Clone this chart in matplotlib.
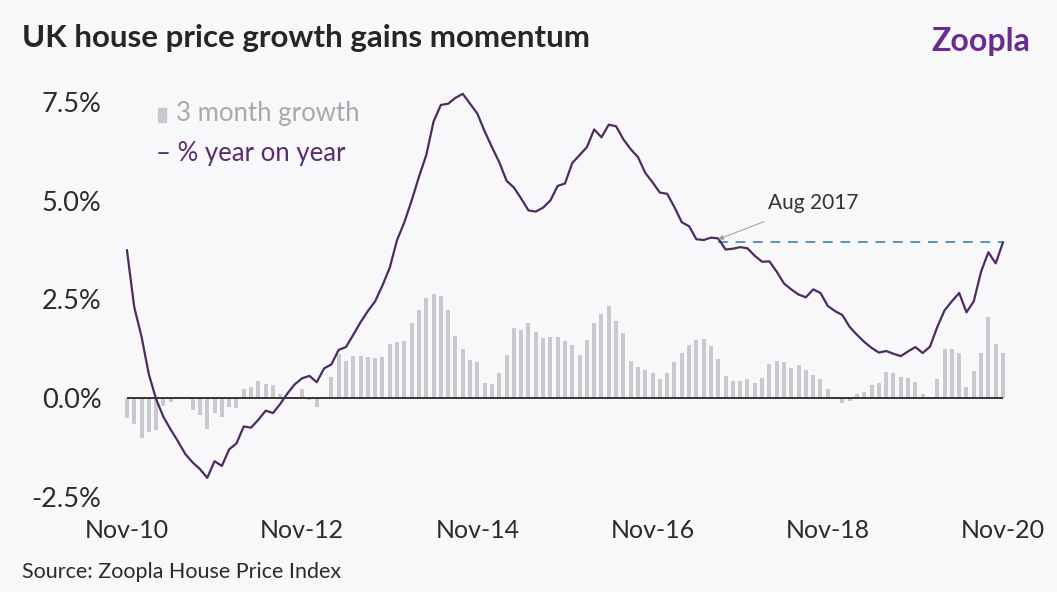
import pandas as pd
import matplotlib
matplotlib.use('Agg')
import matplotlib.pyplot as plt
from matplotlib.patches import Rectangle

# monthly series, Nov 2010 - Nov 2020
months = pd.date_range('2010-11-01', '2020-11-01', freq='MS')

yoy = [3.74, 2.3, 1.55, 0.6, -0.03, -0.48, -0.8, -1.1, -1.42, -1.63,
       -1.8, -2.02, -1.6, -1.72, -1.3, -1.15, -0.72, -0.75, -0.55, -0.32,
       -0.38, -0.15, 0.12, 0.35, 0.5, 0.56, 0.4, 0.75, 0.85, 1.22,
       1.29, 1.6, 1.92, 2.2, 2.45, 2.85, 3.3, 4.0, 4.45, 5.0,
       5.6, 6.15, 7.0, 7.42, 7.45, 7.6, 7.7, 7.45, 7.2, 6.75,
       6.35, 5.97, 5.5, 5.33, 5.05, 4.75, 4.72, 4.82, 5.0, 5.37,
       5.43, 5.95, 6.15, 6.35, 6.8, 6.6, 6.92, 6.88, 6.55, 6.3,
       6.1, 5.7, 5.46, 5.2, 5.17, 4.83, 4.45, 4.35, 4.02, 4.0,
       4.06, 4.04, 3.76, 3.78, 3.82, 3.79, 3.6, 3.45, 3.46, 3.2,
       2.9, 2.75, 2.62, 2.55, 2.75, 2.66, 2.33, 2.2, 2.1, 1.8,
       1.6, 1.42, 1.27, 1.15, 1.19, 1.12, 1.06, 1.18, 1.29, 1.14,
       1.3, 1.8, 2.22, 2.45, 2.66, 2.17, 2.45, 3.2, 3.69, 3.41,
       3.94]

three_month = [-0.5, -0.65, -1.0, -0.85, -0.8, -0.2, -0.1, 0, 0, -0.3,
               -0.43, -0.79, -0.39, -0.47, -0.22, -0.26, 0.24, 0.27, 0.42, 0.35,
               0.34, 0.1, 0, 0, 0.22, -0.05, -0.22, 0, 0.54, 1.11,
               0.93, 1.06, 1.06, 1.04, 1.02, 1.04, 1.36, 1.42, 1.44, 1.89,
               2.22, 2.52, 2.63, 2.58, 2.22, 1.57, 1.25, 0.96, 0.92, 0.39,
               0.35, 0.63, 1.09, 1.77, 1.72, 1.89, 1.68, 1.53, 1.55, 1.55,
               1.44, 1.34, 1.09, 1.48, 1.91, 2.12, 2.34, 1.95, 1.64, 0.94,
               0.79, 0.71, 0.64, 0.47, 0.64, 0.92, 1.14, 1.34, 1.47, 1.5,
               1.32, 0.98, 0.56, 0.44, 0.42, 0.48, 0.37, 0.5, 0.86, 0.94,
               0.91, 0.77, 0.84, 0.71, 0.58, 0.48, 0.22, 0, -0.12, -0.07,
               0.1, 0.16, 0.33, 0.39, 0.66, 0.64, 0.54, 0.5, 0.4, 0.09,
               0, 0.47, 1.23, 1.23, 1.15, 0.27, 0.69, 1.15, 2.05, 1.36,
               1.15]

yticks = [-2.5, 0.0, 2.5, 5.0, 7.5]
ref_label = 'Aug 2017'

bg = '#f8f7fa'
purple = '#4d2b5f'
grey_bar = '#cac9ce'

plt.rcParams['font.family'] = ['Lato', 'DejaVu Sans']

fig = plt.figure(figsize=(10.57, 5.92), dpi=100, facecolor=bg)
ax = fig.add_axes([0.1132, 0.1475, 0.8426, 0.7073])
ax.set_facecolor(bg)

x = list(range(len(months)))
ax.bar(x, three_month, width=0.55, color=grey_bar, zorder=1)
ax.hlines(0, x[0], x[-1], color='#333333', lw=1.4, zorder=2)
ax.plot(x, yoy, color=purple, lw=1.6, zorder=3)

# reference level: today's growth matches Aug 2017
labels = [m.strftime('%b %Y') for m in months]
ref_i = labels.index(ref_label)
ax.hlines(yoy[-1], ref_i, x[-1], color='#5b93b8', lw=1.4, linestyles=(0, (5, 4)), zorder=2)
ax.annotate(ref_label, xy=(ref_i, yoy[-1] + 0.08), xytext=(ref_i + 6.8, yoy[-1] + 1.0),
            fontsize=15, color='#333333', va='center', ha='left',
            arrowprops=dict(arrowstyle='-|>', color='#9a9a9a', lw=0.7,
                            mutation_scale=7, shrinkA=12, shrinkB=0))

ax.set_xlim(-1, len(months))
ax.set_ylim(-2.7, 7.9)
ax.set_yticks(yticks)
ax.set_yticklabels(['%.1f%%' % v for v in yticks])
tick_pos = x[::24]
ax.set_xticks(tick_pos)
ax.set_xticklabels([months[i].strftime('%b-%y') for i in tick_pos])
ax.tick_params(axis='both', length=0, colors='#2b2b2b')
ax.tick_params(axis='x', labelsize=18, pad=10)
ax.tick_params(axis='y', labelsize=19.5, pad=13)
for s in ax.spines.values():
    s.set_visible(False)

# legend drawn by hand
fig.patches.append(Rectangle((158 / 1057, 1 - 122 / 592), 8 / 1057, 14 / 592,
                             transform=fig.transFigure, color=grey_bar))
fig.text(176 / 1057, 1 - 114 / 592, '3 month growth', fontsize=18.5, color='#a9a9ad', va='center')
fig.text(156 / 1057, 1 - 153 / 592, '\u2013 % year on year', fontsize=18.5, color='#5b2d6e', va='center')

fig.text(22 / 1057, 1 - 38 / 592, 'UK house price growth gains momentum',
         fontsize=22.5, fontweight='bold', color='#262626', va='center')
fig.text(1030 / 1057, 1 - 42 / 592, 'Zoopla', fontsize=23, fontweight='bold',
         color='#6a2d8f', va='center', ha='right')
fig.text(22 / 1057, 1 - 572 / 592, 'Source: Zoopla House Price Index',
         fontsize=15.5, color='#2b2b2b', va='center')

fig.savefig('out.png', dpi=100, facecolor=bg)
